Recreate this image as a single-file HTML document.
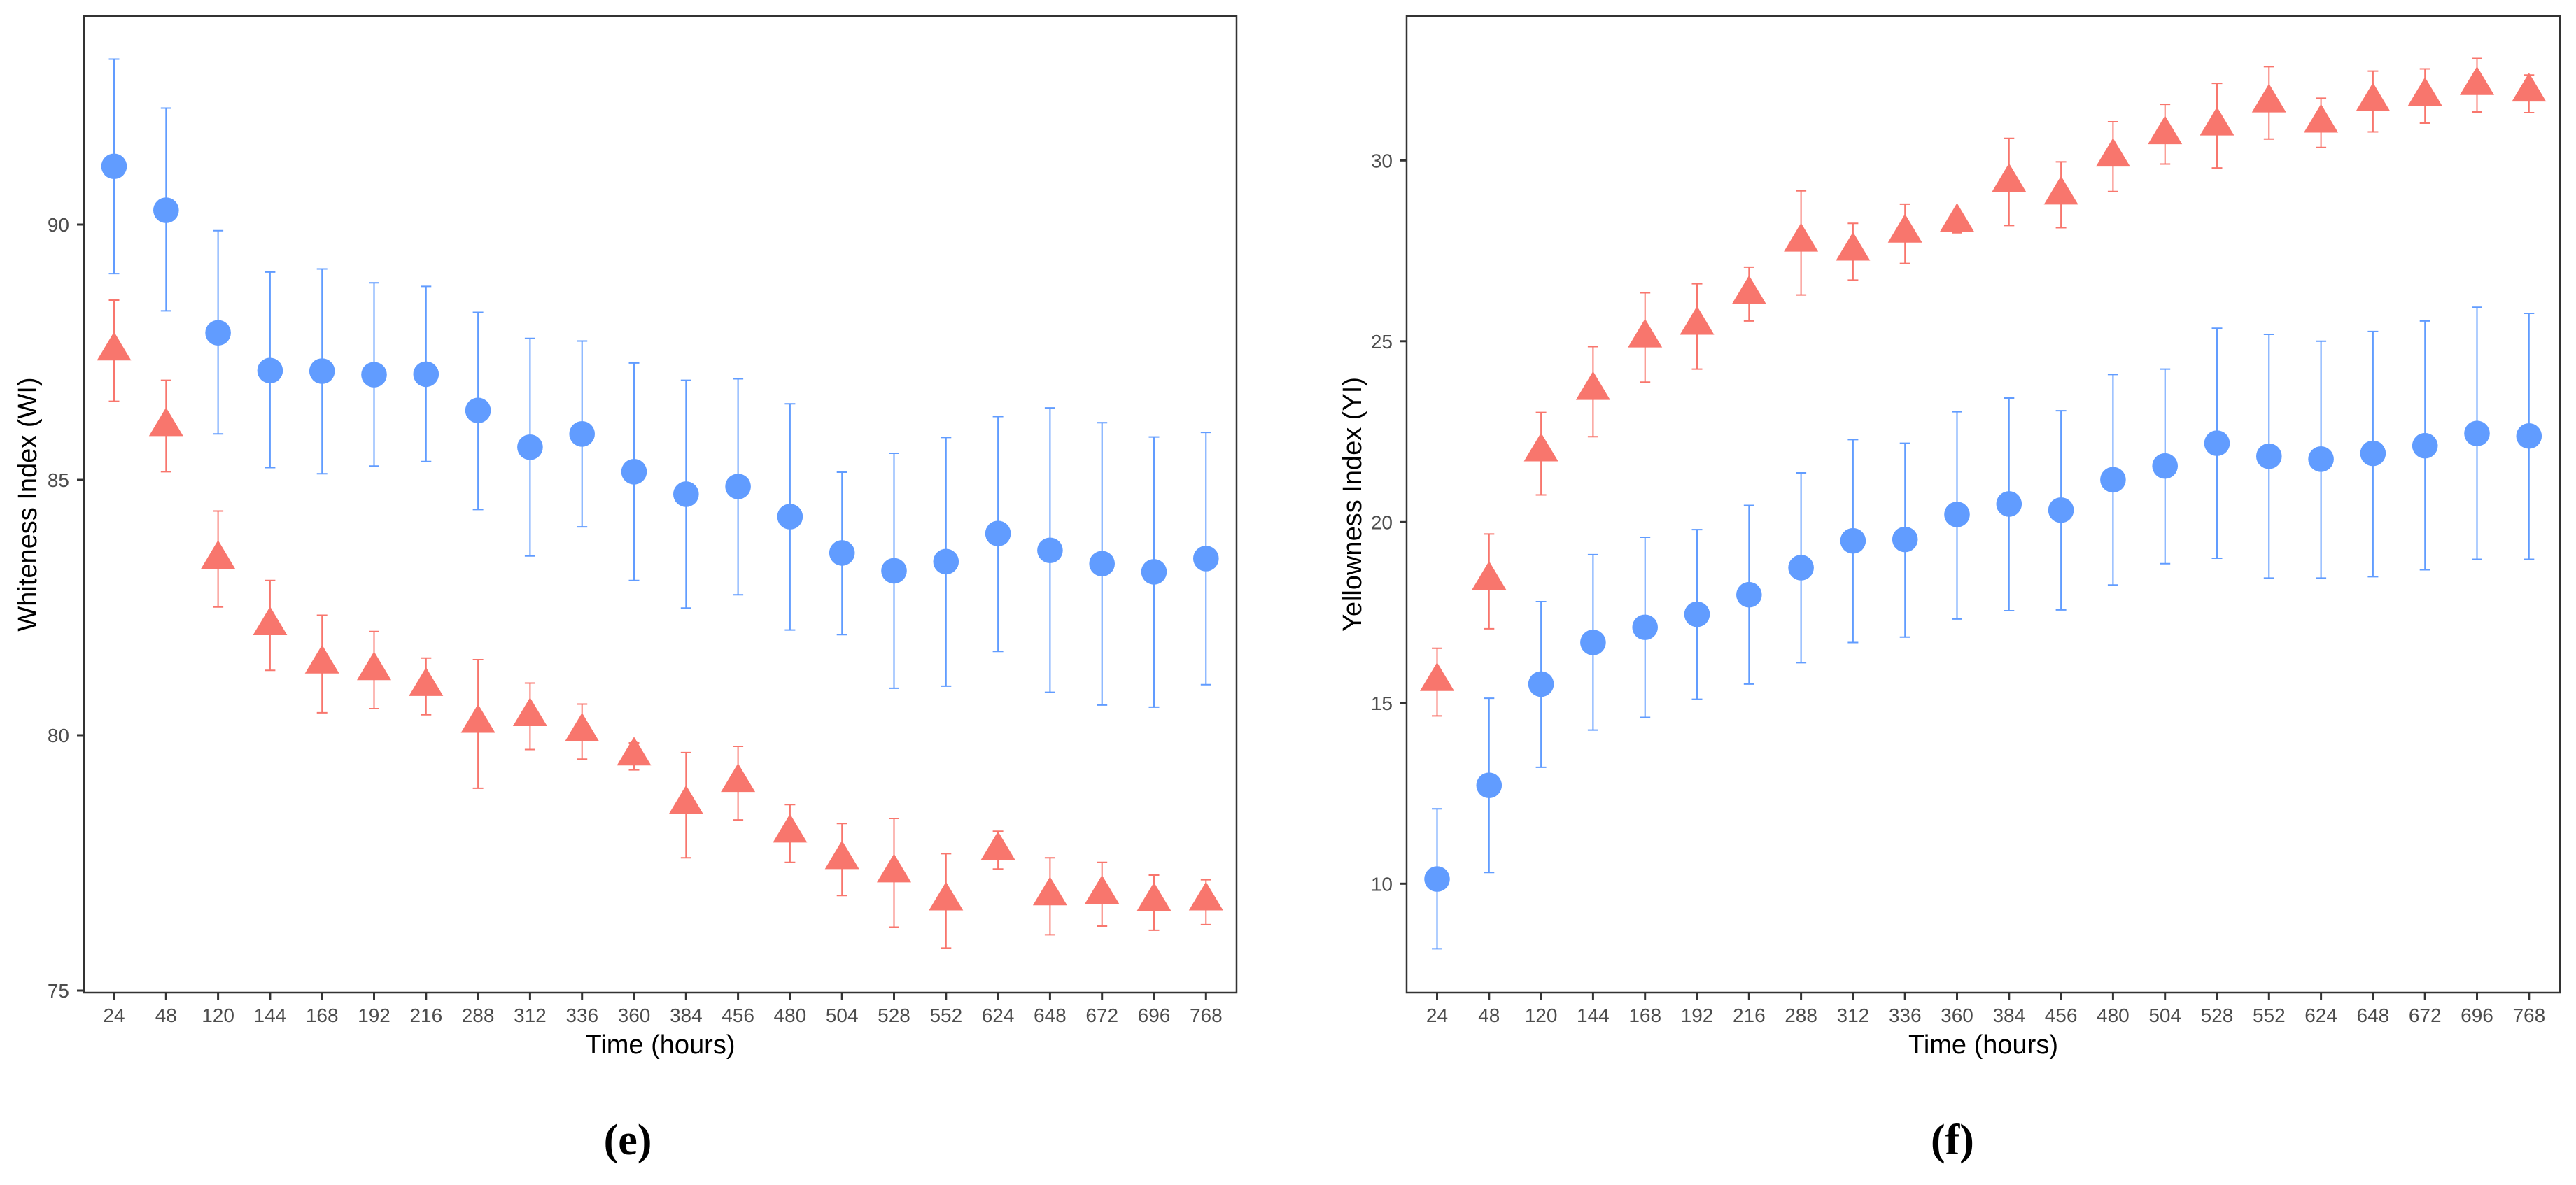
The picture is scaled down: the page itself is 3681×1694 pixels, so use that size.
<!DOCTYPE html>
<html><head><meta charset="utf-8"><style>
html,body{margin:0;padding:0;background:#fff;}
svg{display:block;}
</style></head><body>
<svg id="chart" width="3681" height="1694" viewBox="0 0 3681 1694" xmlns="http://www.w3.org/2000/svg">
<rect x="0" y="0" width="3681" height="1694" fill="#fff"/>
<g id="panelE"></g>
<g id="panelF"></g>
</svg>
<script>
const categories = ["24","48","120","144","168","192","216","288","312","336","360","384","456","480","504","528","552","624","648","672","696","768"];
// Whiteness Index – circle series (blue)
const wiBlueMean = [91.14,90.28,87.88,87.14,87.13,87.06,87.07,86.36,85.64,85.90,85.16,84.72,84.87,84.28,83.57,83.22,83.40,83.95,83.62,83.36,83.20,83.46];
const wiBlueHi   = [93.24,92.28,89.88,89.07,89.13,88.86,88.79,88.28,87.77,87.72,87.29,86.95,86.98,86.49,85.15,85.52,85.83,86.24,86.41,86.12,85.84,85.93];
const wiBlueLo   = [89.04,88.31,85.90,85.24,85.12,85.27,85.36,84.42,83.51,84.08,83.03,82.49,82.75,82.06,81.97,80.92,80.96,81.64,80.84,80.59,80.55,80.99];
// Whiteness Index – triangle series (red)
const wiRedMean = [87.53,86.05,83.45,82.15,81.40,81.27,80.96,80.24,80.37,80.07,79.60,78.65,79.08,78.09,77.57,77.31,76.76,77.75,76.86,76.89,76.75,76.76];
const wiRedHi   = [88.52,86.95,84.39,83.03,82.35,82.03,81.51,81.48,81.02,80.61,79.85,79.66,79.78,78.64,78.27,78.37,77.68,78.12,77.60,77.51,77.26,77.17];
const wiRedLo   = [86.54,85.16,82.51,81.27,80.44,80.52,80.40,78.96,79.72,79.53,79.32,77.60,78.34,77.51,76.86,76.24,75.83,77.38,76.09,76.26,76.18,76.29];
// Yellowness Index – circle series (blue)
const yiBlueMean = [10.13,12.72,15.52,16.67,17.09,17.45,17.99,18.74,19.48,19.52,20.21,20.50,20.33,21.17,21.55,22.18,21.82,21.74,21.90,22.11,22.45,22.38];
const yiBlueHi   = [12.07,15.13,17.80,19.10,19.58,19.79,20.46,21.36,22.28,22.18,23.05,23.43,23.08,24.08,24.23,25.36,25.19,25.00,25.27,25.56,25.94,25.77];
const yiBlueLo   = [8.20,10.31,13.22,14.25,14.60,15.10,15.52,16.11,16.67,16.82,17.32,17.55,17.57,18.26,18.85,19.00,18.45,18.45,18.49,18.68,18.97,18.97];
// Yellowness Index – triangle series (red)
const yiRedMean = [15.60,18.40,21.95,23.65,25.10,25.45,26.30,27.75,27.50,28.00,28.30,29.40,29.05,30.10,30.72,30.96,31.60,31.04,31.63,31.78,32.08,31.90];
const yiRedHi   = [16.51,19.67,23.03,24.85,26.34,26.59,27.05,29.16,28.26,28.79,28.45,30.61,29.96,31.07,31.55,32.13,32.59,31.72,32.47,32.53,32.82,32.36];
const yiRedLo   = [14.64,17.05,20.75,22.36,23.87,24.23,25.56,26.28,26.69,27.15,28.00,28.20,28.14,29.14,29.90,29.79,30.59,30.36,30.79,31.03,31.34,31.32];
const wiTicks = [75,80,85,90];
const yiTicks = [10,15,20,25,30];

const NS = "http://www.w3.org/2000/svg";
const BLUE = "#619CFF", RED = "#F8766D";
function mk(parent, tag, attrs, text){
  const e = document.createElementNS(NS, tag);
  for (const k in attrs) e.setAttribute(k, attrs[k]);
  if (text !== undefined) e.textContent = text;
  parent.appendChild(e);
  return e;
}

function drawPanel(g, cfg){
  const {left,right,top,bottom,x0,dx,yRef,vRef,ppu,ticks,yTitle,titleX,tickRight,panelLabel,labelX,blue,red} = cfg;
  const xs = i => x0 + i*dx;
  const ys = v => yRef - (v - vRef)*ppu;

  // y ticks
  ticks.forEach(t => {
    const y = ys(t);
    const tk = mk(g,"line",{x1:left-10,x2:left,y1:y,y2:y,stroke:"#333","stroke-width":3});
    
    
    const lb = mk(g,"text",{x:tickRight,y:y+10,"text-anchor":"end","font-size":28,fill:"#4d4d4d","font-family":"Liberation Sans, Arial, sans-serif"}, String(t));
    
    
  });
  // x ticks
  categories.forEach((c,i) => {
    const x = xs(i);
    const tk = mk(g,"line",{x1:x,x2:x,y1:bottom,y2:bottom+10,stroke:"#333","stroke-width":3});
    
    
    const lb = mk(g,"text",{x:x,y:1461,"text-anchor":"middle","font-size":28,fill:"#4d4d4d","font-family":"Liberation Sans, Arial, sans-serif"}, c);
    
    
  });

  function series(mean, hi, lo, color, shape, name){
    const sg = mk(g,"g",{});
    
    
    mean.forEach((m,i) => {
      const x = xs(i);
      const eb = mk(sg,"path",{d:`M${x-7.5},${ys(hi[i])}H${x+7.5}M${x},${ys(hi[i])}V${ys(lo[i])}M${x-7.5},${ys(lo[i])}H${x+7.5}`,stroke:color,"stroke-width":2,fill:"none"});
      
      
      const y = ys(m);
      let pt;
      if (shape === "circle"){
        pt = mk(sg,"circle",{cx:x,cy:y,r:18.3,fill:color});
      } else {
        pt = mk(sg,"polygon",{points:`${x},${y-27} ${x+24.5},${y+14} ${x-24.5},${y+14}`,fill:color});
      }
      
      
    });
  }
  series(blue[0],blue[1],blue[2],BLUE,"circle","circle-series");
  series(red[0],red[1],red[2],RED,"triangle","triangle-series");

  const frame = mk(g,"rect",{x:left,y:top,width:right-left,height:bottom-top,fill:"none",stroke:"#333","stroke-width":2.5});
  
  

  const cy = (top+bottom)/2;
  const yt = mk(g,"text",{x:titleX,y:cy,transform:`rotate(-90 ${titleX} ${cy})`,"text-anchor":"middle","font-size":38,fill:"#000","font-family":"Liberation Sans, Arial, sans-serif"}, yTitle);
  
  
  const xt = mk(g,"text",{x:(left+right)/2,y:1506,"text-anchor":"middle","font-size":38,fill:"#000","font-family":"Liberation Sans, Arial, sans-serif"}, "Time (hours)");
  
  
  const pl = mk(g,"text",{x:labelX,y:1650,"text-anchor":"middle","font-size":62,fill:"#000","font-family":"Liberation Serif, Times New Roman, serif","font-weight":"bold"}, panelLabel);
  
  
}

drawPanel(document.getElementById("panelE"), {
  left:120,right:1767,top:23,bottom:1419,x0:163,dx:74.3,yRef:321,vRef:90,ppu:73,
  ticks:wiTicks,yTitle:"Whiteness Index (WI)",titleX:52,tickRight:99,panelLabel:"(e)",labelX:897,
  blue:[wiBlueMean,wiBlueHi,wiBlueLo],red:[wiRedMean,wiRedHi,wiRedLo]
});
drawPanel(document.getElementById("panelF"), {
  left:2010,right:3658,top:23,bottom:1419,x0:2053.5,dx:74.3,yRef:1263.3,vRef:10,ppu:51.7,
  ticks:yiTicks,yTitle:"Yellowness Index (YI)",titleX:1945,tickRight:1990,panelLabel:"(f)",labelX:2790,
  blue:[yiBlueMean,yiBlueHi,yiBlueLo],red:[yiRedMean,yiRedHi,yiRedLo]
});
</script>
</body></html>
